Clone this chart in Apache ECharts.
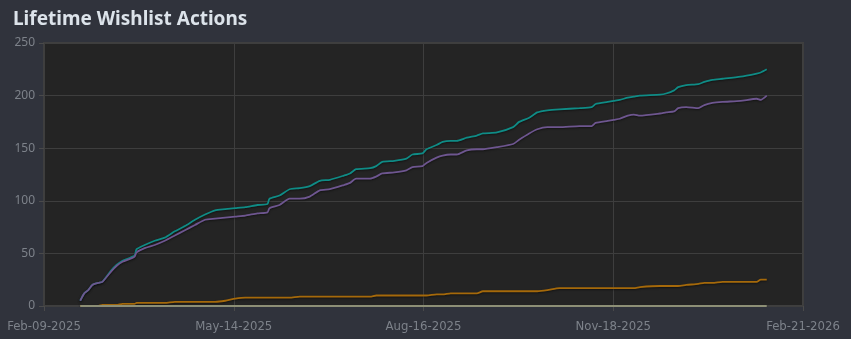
<!DOCTYPE html>
<html>
<head>
<meta charset="utf-8">
<script src="https://cdn.jsdelivr.net/npm/echarts@6/dist/echarts.min.js"></script>
<style>
  html, body { margin: 0; padding: 0; background: #30333c; }
  #chart { width: 851px; height: 339px; }
</style>
</head>
<body>
<div id="chart"></div>
<script>
var dates = [
  '2025-02-27','2025-03-01','2025-03-03','2025-03-05','2025-03-08','2025-03-10','2025-03-14','2025-03-17','2025-03-20','2025-03-24',
  '2025-03-26','2025-03-27','2025-03-31','2025-04-05','2025-04-10','2025-04-15','2025-04-20','2025-04-25','2025-04-30','2025-05-05',
  '2025-05-10','2025-05-15','2025-05-20','2025-05-26','2025-05-31','2025-06-01','2025-06-06','2025-06-11','2025-06-16','2025-06-21',
  '2025-06-26','2025-07-01','2025-07-08','2025-07-11','2025-07-14','2025-07-21','2025-07-24','2025-07-27','2025-08-02','2025-08-08',
  '2025-08-11','2025-08-16','2025-08-18','2025-08-23','2025-08-26','2025-08-30','2025-09-02','2025-09-07','2025-09-12','2025-09-15',
  '2025-09-22','2025-09-30','2025-10-03','2025-10-08','2025-10-12','2025-10-17','2025-10-23','2025-11-02','2025-11-08','2025-11-10',
  '2025-11-16','2025-11-19','2025-11-22','2025-11-26','2025-11-29','2025-12-02','2025-12-12','2025-12-15','2025-12-19','2025-12-21',
  '2025-12-25','2025-12-31','2026-01-03','2026-01-07','2026-01-12','2026-01-21','2026-01-29','2026-01-31','2026-02-03'
];

var adds = [
  5,12,15,20,22,23,33,39,43,46,
  48,54,58,62,65,71,76,82,87,91,
  92,93,94,96,97,102,105,111,112,114,
  119,120,124,126,130,131,133,137,138,140,
  144,145,149,153,156,157,157,160,162,164,
  165,170,175,179,184,186,187,188,189,192,
  194,195,196,198,199,200,201,202,205,208,
  210,211,213,215,216,218,221,222,225
];

var deletes = [
  5,12,15,20,22,23,32,38,42,45,
  47,51,55,58,62,67,72,77,82,83,
  84,85,86,88,89,93,96,102,102,104,
  110,111,115,117,121,121,123,126,127,129,
  132,133,136,141,143,144,144,148,149,149,
  151,154,158,164,168,170,170,171,171,174,
  176,177,178,181,182,181,183,184,185,188,
  189,188,191,193,194,195,197,196,200
];

var purchases = [
  0,0,0,0,0,1,1,1,2,2,
  2,3,3,3,3,4,4,4,4,4,
  5,7,8,8,8,8,8,8,9,9,
  9,9,9,9,9,9,10,10,10,10,
  10,10,10,11,11,12,12,12,12,14,
  14,14,14,14,14,15,17,17,17,17,
  17,17,17,17,17,18,19,19,19,19,
  20,21,22,22,23,23,23,25,25
];

var gifts = dates.map(function () { return 0; });

var axisStart = '2025-02-09';
var axisEnd = '2026-02-21';
var yTicks = [0, 50, 100, 150, 200, 250];

var MONTHS = ['Jan','Feb','Mar','Apr','May','Jun','Jul','Aug','Sep','Oct','Nov','Dec'];
var DAY = 86400000;
var startMs = Date.parse(axisStart);

function dayOf(s) { return (Date.parse(s) - startMs) / DAY; }
function pad(n) { return n < 10 ? '0' + n : '' + n; }
function fmtDay(v) {
  var d = new Date(startMs + Math.floor(v + 1e-6) * DAY);
  return MONTHS[d.getUTCMonth()] + '-' + pad(d.getUTCDate()) + '-' + d.getUTCFullYear();
}
function pairs(vals) {
  return dates.map(function (s, i) { return [dayOf(s), vals[i]]; });
}

var span = dayOf(axisEnd);

function line(name, vals, color) {
  return {
    name: name,
    type: 'line',
    data: pairs(vals),
    showSymbol: false,
    smooth: 0.2,
    lineStyle: { color: color, width: 1.8, shadowColor: 'rgba(0,0,0,0.5)', shadowBlur: 2, shadowOffsetY: 1 },
    itemStyle: { color: color }
  };
}

var chart = echarts.init(document.getElementById('chart'));
var option = {
  backgroundColor: '#30333c',
  animation: false,
  title: {
    text: 'Lifetime Wishlist Actions',
    left: 8,
    top: 5,
    textStyle: { color: '#dce3ea', fontSize: 19, fontWeight: 'bold', fontFamily: 'Noto Sans' }
  },
  grid: {
    left: 44, right: 48, top: 43, bottom: 33,
    show: true,
    backgroundColor: '#242424',
    borderColor: '#3f3f3f',
    borderWidth: 2
  },
  xAxis: {
    type: 'value',
    min: 0,
    max: span,
    interval: span / 4,
    axisLine: { show: false },
    axisTick: { show: true, length: 5, lineStyle: { color: '#4a4a4a' } },
    splitLine: { show: true, lineStyle: { color: '#3e3e3e', width: 1 } },
    axisLabel: {
      color: '#7d828a',
      fontSize: 13,
      fontFamily: "'Liberation Sans Narrow', 'DejaVu Sans Condensed', 'Noto Sans', sans-serif",
      margin: 14,
      formatter: fmtDay
    }
  },
  yAxis: {
    type: 'value',
    min: yTicks[0],
    max: yTicks[yTicks.length - 1],
    interval: 50,
    axisLine: { show: false },
    axisTick: { show: true, length: 5, lineStyle: { color: '#4a4a4a' } },
    splitLine: { show: true, lineStyle: { color: '#3e3e3e', width: 1 } },
    axisLabel: { color: '#7d828a', fontSize: 12, fontFamily: 'Noto Sans', margin: 9 }
  },
  series: [
    line('Adds', adds, '#0f8c86'),
    line('Deletes', deletes, '#6e5690'),
    line('Purchases & Activations', purchases, '#a5690a'),
    line('Gifts', gifts, '#8d8f76')
  ]
};
chart.setOption(option);
</script>
</body>
</html>
